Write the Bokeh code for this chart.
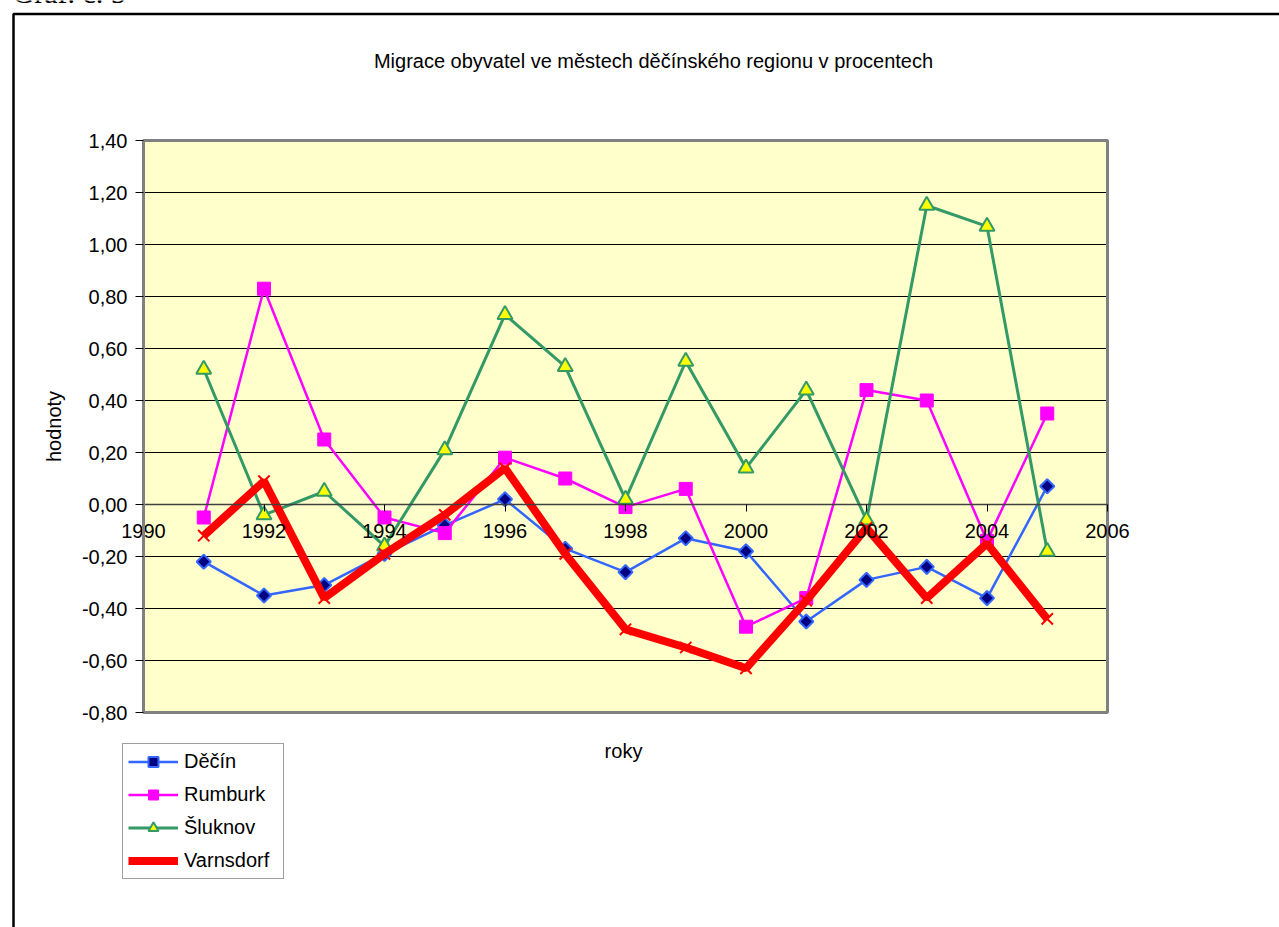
import math
from bokeh.plotting import figure
from bokeh.models import (Range1d, FixedTicker, CustomJSTickFormatter, Legend,
                          LegendItem, Label, BoxAnnotation)
from bokeh.embed import file_html
from bokeh.resources import INLINE

# ---- data ----
years = [1991, 1992, 1993, 1994, 1995, 1996, 1997, 1998, 1999, 2000,
         2001, 2002, 2003, 2004, 2005]
decin = [-0.22, -0.35, -0.31, -0.19, -0.08, 0.02, -0.17, -0.26, -0.13,
         -0.18, -0.45, -0.29, -0.24, -0.36, 0.07]
rumburk = [-0.05, 0.83, 0.25, -0.05, -0.11, 0.18, 0.10, -0.01, 0.06,
           -0.47, -0.36, 0.44, 0.40, -0.14, 0.35]
sluknov = [0.52, -0.04, 0.05, -0.16, 0.21, 0.73, 0.53, 0.02, 0.55,
           0.14, 0.44, -0.06, 1.15, 1.07, -0.18]
varnsdorf = [-0.12, 0.09, -0.36, -0.19, -0.04, 0.14, -0.19, -0.48, -0.55,
             -0.63, -0.37, -0.09, -0.36, -0.15, -0.44]
x_ticks = [1990, 1992, 1994, 1996, 1998, 2000, 2002, 2004, 2006]
y_ticks = [-0.8, -0.6, -0.4, -0.2, 0.0, 0.2, 0.4, 0.6, 0.8, 1.0, 1.2, 1.4]

FONT = "Liberation Sans"

# ---- layout (pixels on the canvas) ----
W, H = 1279, 927
PL, PR, PT, PB = 143, 1107, 140, 712          # plot area edges
x0, x1 = x_ticks[0], x_ticks[-1]
y0, y1 = y_ticks[0], y_ticks[-1]
sx = (PR - PL) / (x1 - x0)
sy = (PB - PT) / (y1 - y0)


def X(px):
    return x0 + (px - PL) / sx


def Y(py):
    return y1 - (py - PT) / sy


p = figure(width=W, height=H,
           x_range=Range1d(X(0), X(W)), y_range=Range1d(Y(H), Y(0)),
           output_backend="svg", toolbar_location=None,
           min_border_left=0, min_border_right=0,
           min_border_top=0, min_border_bottom=0,
           background_fill_color="white", border_fill_color="white")
p.outline_line_color = None
p.title.visible = False
p.xgrid.visible = False
p.ygrid.visible = False

# plot area
p.quad(left=[x0], right=[x1], bottom=[y0], top=[y1],
       fill_color="#FFFFCC", line_color=None)
inner = y_ticks[1:-1]
p.segment(x0=[x0] * len(inner), x1=[x1] * len(inner), y0=inner, y1=inner,
          line_color="black", line_width=1)
p.quad(left=[x0], right=[x1], bottom=[y0], top=[y1],
       fill_color=None, line_color="#808080", line_width=3)

# x axis crossing at 0
xa = p.xaxis[0]
xa.fixed_location = 0
xa.bounds = (x0, x1)
xa.ticker = FixedTicker(ticks=x_ticks)
xa.axis_line_color = "#404040"
xa.axis_line_width = 1.5
xa.major_tick_out = 7
xa.major_tick_in = 0
xa.major_tick_line_color = "black"
xa.minor_tick_line_color = None
xa.major_label_standoff = 12
xa.major_label_text_font = FONT
xa.major_label_text_font_size = "20px"
xa.major_label_text_color = "black"

ya = p.yaxis[0]
ya.fixed_location = x0
ya.bounds = (y0, y1)
ya.ticker = FixedTicker(ticks=y_ticks)
ya.formatter = CustomJSTickFormatter(code="return tick.toFixed(2).replace('.', ',');")
ya.axis_line_color = "#808080"
ya.axis_line_width = 3
ya.major_tick_out = 8
ya.major_tick_in = 0
ya.major_tick_line_color = "black"
ya.minor_tick_line_color = None
ya.major_label_standoff = 8
ya.major_label_text_font = FONT
ya.major_label_text_font_size = "20px"
ya.major_label_text_color = "black"
ya.axis_label = "hodnoty"
ya.axis_label_text_font = FONT
ya.axis_label_text_font_size = "20px"
ya.axis_label_text_font_style = "normal"
ya.axis_label_text_color = "black"
ya.axis_label_standoff = 14

# series
l1 = p.line(years, decin, line_color="#3366FF", line_width=2.5)
m1 = p.scatter(years, decin, marker="square", angle=math.pi / 4, size=10,
               fill_color="#000080", line_color="#3366FF", line_width=2)
l2 = p.line(years, rumburk, line_color="#FF00FF", line_width=2.5)
m2 = p.scatter(years, rumburk, marker="square", size=13, fill_color="#FF00FF",
               line_color="#FF00FF", line_width=1)
l3 = p.line(years, sluknov, line_color="#339966", line_width=3)
m3 = p.scatter(years, sluknov, marker="triangle", size=15, fill_color="#FFFF00",
               line_color="#339966", line_width=2)
l4 = p.line(years, varnsdorf, line_color="#FF0000", line_width=8)
m4 = p.scatter(years, varnsdorf, marker="x", size=16, line_color="#FF0000",
               line_width=2)

legend = Legend(items=[
    LegendItem(label="Děčín", renderers=[l1, m1]),
    LegendItem(label="Rumburk", renderers=[l2, m2]),
    LegendItem(label="Šluknov", renderers=[l3, m3]),
    LegendItem(label="Varnsdorf", renderers=[l4, m4]),
], location=(122, H - 879))
legend.label_text_font = FONT
legend.label_text_font_size = "20px"
legend.label_text_color = "black"
legend.glyph_width = 50
legend.glyph_height = 25
legend.label_height = 25
legend.label_width = 94
legend.spacing = 8
legend.padding = 5
legend.margin = 0
legend.label_standoff = 6
legend.border_line_color = "#404040"
legend.border_line_width = 1
legend.background_fill_color = "white"
legend.background_fill_alpha = 1
p.add_layout(legend, "center")

p.add_layout(Label(x=X(653), y=Y(60),
                   text="Migrace obyvatel ve městech děčínského regionu v procentech",
                   text_align="center", text_baseline="alphabetic",
                   text_font=FONT, text_font_size="20px", text_color="black"))
p.add_layout(Label(x=X(623), y=Y(750), text="roky",
                   text_align="center", text_baseline="alphabetic",
                   text_font=FONT, text_font_size="20px", text_color="black"))
p.add_layout(Label(x=X(12), y=Y(-8), text="Graf. č. 5",
                   text_align="left", text_baseline="alphabetic",
                   text_font="Liberation Serif", text_font_size="30px",
                   text_color="black"))

p.add_layout(BoxAnnotation(left=X(13), right=X(W + 50), top=Y(13.5), bottom=Y(H + 50),
                           fill_alpha=0, line_color="black", line_alpha=1,
                           line_width=2.5))

open("out.html", "w").write(file_html(p, INLINE))
